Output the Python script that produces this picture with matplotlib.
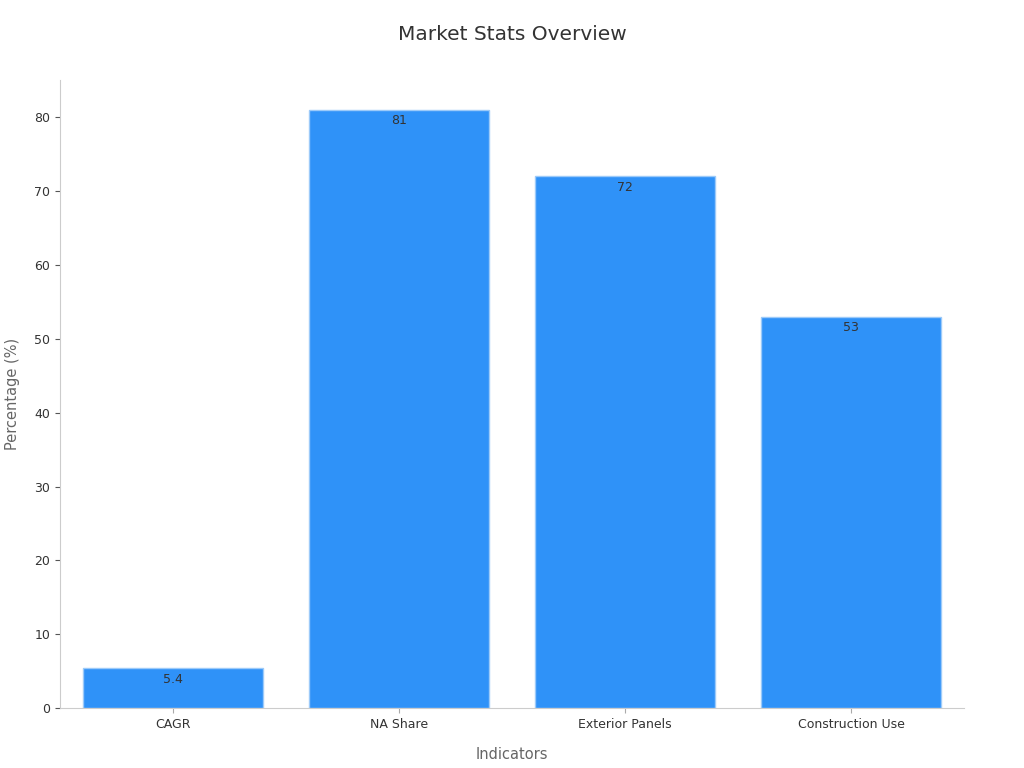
import matplotlib
matplotlib.use('Agg')
import matplotlib.pyplot as plt

categories = ['CAGR', 'NA Share', 'Exterior Panels', 'Construction Use']
values = [5.4, 81, 72, 53]
value_labels = ['5.4', '81', '72', '53']

fig = plt.figure(figsize=(10.24, 7.68), dpi=100)
ax = fig.add_axes([0.0586, 0.078, 0.8828, 0.818])

bars = ax.bar(range(len(categories)), values, width=0.8, color='#2f92f8',
              edgecolor='#9ccaf9', linewidth=1)

for i, (v, lab) in enumerate(zip(values, value_labels)):
    ax.text(i, v - 0.6, lab, ha='center', va='top', fontsize=9, color='#333333')

ax.set_xlim(-0.5, 3.5)
ax.set_ylim(0, 85.05)
ax.set_xticks(range(len(categories)))
ax.set_xticklabels(categories)
ax.set_yticks(range(0, 81, 10))
ax.tick_params(axis='both', labelsize=9, colors='#333333')
ax.tick_params(axis='x', color='#aaaaaa')
ax.tick_params(axis='y', color='#555555')

for s in ['top', 'right']:
    ax.spines[s].set_visible(False)
for s in ['left', 'bottom']:
    ax.spines[s].set_color('#cccccc')

ax.set_xlabel('Indicators', fontsize=10.5, color='#666666', labelpad=12)
ax.set_ylabel('Percentage (%)', fontsize=10.5, color='#666666', labelpad=10)
fig.suptitle('Market Stats Overview', fontsize=14.5, color='#333333', y=0.968)

fig.savefig('out.png', dpi=100)
